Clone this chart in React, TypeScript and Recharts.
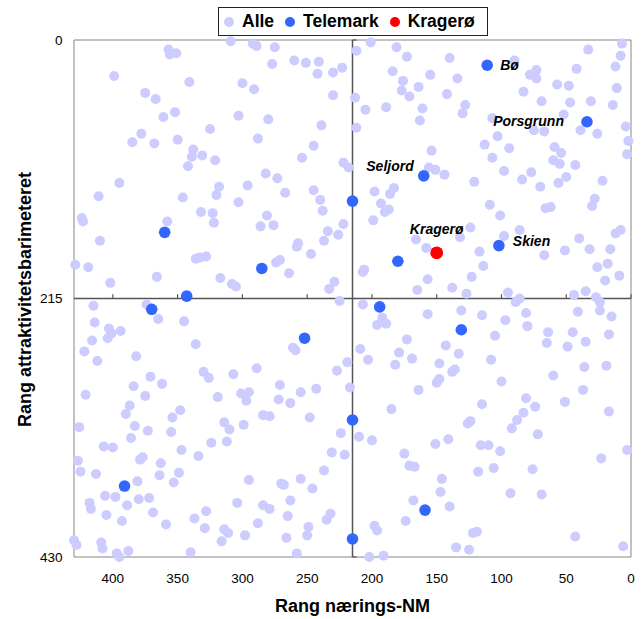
import React from 'react';
import { ScatterChart, Scatter, XAxis, YAxis, ReferenceLine, ReferenceArea, Legend } from 'recharts';

// ---- data ----
const xTicks = [0, 50, 100, 150, 200, 250, 300, 350, 400];
const yTicks = [0, 215, 430];
const midRank = 215;
const maxRank = 430;

const alleTopLeft: [number, number][] = [
  [357, 8], [356, 12], [351, 11], [309, 1], [292, 3], [289, 5], [275, 6], [399, 30], [341, 35], [277, 20],
  [260, 17], [251, 19], [241, 18], [242, 28], [230, 27], [223, 23], [375, 44], [367, 49], [300, 36], [291, 41],
  [230, 46], [352, 60], [361, 64], [303, 63], [280, 66], [239, 71], [325, 74], [378, 78], [385, 85], [368, 86],
  [350, 83], [288, 82], [245, 88], [338, 91], [339, 97], [331, 96], [321, 100], [342, 105], [254, 98], [222, 102],
  [218, 106], [282, 111], [273, 115], [395, 119], [318, 122], [296, 121], [267, 127], [245, 125], [240, 133], [238, 142],
  [411, 130], [346, 131], [320, 129], [303, 135], [424, 148], [423, 151], [332, 143], [323, 144], [322, 152], [358, 151],
  [281, 146], [286, 155], [276, 154], [222, 153], [234, 159], [226, 162], [410, 167], [257, 169], [258, 172], [237, 167],
  [247, 178], [336, 182], [333, 181], [328, 180], [429, 187], [419, 189], [274, 185], [271, 183], [264, 194], [366, 197],
  [317, 198], [308, 203], [305, 205], [402, 202], [229, 201], [233, 207],
];

const alleTopRight: [number, number][] = [
  [212, 9], [201, 2], [181, 6], [173, 14], [140, 15], [90, 17], [78, 29], [73, 25], [73, 32], [33, 8],
  [7, 3], [8, 13], [42, 24], [12, 22], [184, 26], [155, 29], [134, 32], [176, 34], [177, 42], [171, 47],
  [164, 39], [142, 45], [213, 48], [83, 43], [57, 37], [48, 38], [11, 40], [205, 58], [189, 56], [161, 57],
  [128, 54], [130, 61], [163, 67], [69, 51], [47, 52], [52, 62], [31, 51], [14, 54], [212, 73], [107, 65],
  [75, 75], [67, 76], [39, 75], [26, 78], [4, 72], [2, 84], [3, 95], [103, 80], [113, 87], [94, 90],
  [154, 92], [107, 98], [59, 89], [54, 94], [60, 100], [55, 103], [43, 104], [156, 106], [151, 108], [144, 112],
  [98, 109], [77, 110], [84, 116], [121, 118], [50, 114], [56, 119], [22, 117], [70, 122], [198, 126], [186, 128],
  [183, 123], [193, 136], [190, 143], [187, 141], [109, 137], [101, 146], [66, 140], [62, 139], [28, 132], [30, 138],
  [199, 150], [124, 156], [86, 158], [98, 163], [132, 164], [166, 166], [40, 165], [8, 158], [12, 161], [158, 173],
  [117, 176], [67, 179], [51, 175], [32, 174], [16, 174], [207, 193], [206, 191], [114, 188], [26, 189], [18, 186],
  [9, 196], [157, 199], [123, 197], [20, 200], [165, 208], [138, 206], [127, 211], [95, 210], [44, 212], [35, 209],
  [27, 214],
];

const alleBottomLeft: [number, number][] = [
  [415, 221], [374, 220], [365, 232], [345, 234], [225, 217], [414, 235], [403, 240], [401, 244], [404, 248], [394, 242],
  [416, 250], [422, 259], [412, 267], [382, 263], [336, 253], [261, 256], [259, 258], [219, 268], [227, 275], [217, 289],
  [330, 276], [326, 281], [307, 278], [289, 273], [371, 280], [362, 286], [384, 288], [375, 296], [421, 295], [319, 297],
  [301, 294], [295, 293], [297, 300], [271, 287], [243, 290], [255, 293], [272, 299], [263, 302], [387, 304], [390, 311],
  [348, 308], [354, 314], [284, 312], [279, 313], [248, 314], [426, 322], [383, 321], [373, 325], [355, 326], [386, 331],
  [314, 318], [310, 324], [299, 320], [324, 335], [312, 334], [224, 327], [407, 338], [400, 339], [347, 341], [334, 346],
  [231, 343], [221, 345], [379, 349], [377, 347], [363, 352], [427, 350], [425, 359], [413, 361], [364, 362], [349, 360],
  [381, 367], [353, 368], [295, 366], [270, 369], [268, 370], [255, 365], [246, 373], [237, 358], [406, 379], [398, 380],
  [380, 382], [372, 381], [418, 385], [417, 390], [389, 387], [369, 393], [304, 385], [284, 387], [279, 390], [263, 383],
  [405, 395], [393, 400], [359, 403], [337, 398], [328, 392], [329, 406], [314, 407], [311, 410], [288, 402], [265, 396],
  [249, 405], [250, 412], [235, 399], [232, 394], [430, 416], [428, 420], [409, 418], [408, 423], [397, 427], [395, 430],
  [388, 425], [340, 426], [316, 417], [298, 412], [266, 414], [258, 427],
];

const alleBottomRight: [number, number][] = [
  [207, 220], [192, 231], [196, 237], [189, 236], [157, 228], [131, 225], [115, 229], [97, 233], [89, 218], [86, 215],
  [81, 227], [80, 238], [41, 226], [24, 218], [24, 225], [15, 230], [64, 243], [45, 243], [65, 252], [49, 255],
  [35, 251], [17, 245], [105, 246], [173, 249], [209, 257], [179, 260], [203, 266], [169, 265], [143, 254], [133, 261],
  [182, 270], [148, 269], [108, 266], [136, 274], [138, 276], [150, 285], [148, 282], [100, 284], [60, 279], [36, 272],
  [19, 271], [164, 291], [37, 291], [81, 298], [74, 305], [83, 310], [88, 316], [92, 323], [51, 301], [17, 309],
  [115, 303], [185, 307], [210, 330], [200, 333], [126, 319], [124, 317], [72, 328], [151, 336], [141, 332], [116, 337],
  [110, 337], [101, 342], [175, 344], [171, 354], [167, 355], [118, 359], [106, 356], [76, 357], [23, 348], [3, 341],
  [146, 365], [147, 376], [93, 377], [69, 378], [168, 383], [140, 388], [174, 400], [198, 404], [196, 408], [122, 410],
  [119, 409], [43, 413], [6, 421], [135, 422], [125, 424], [202, 430], [191, 429],
];

const telemarkPoints: { x: number; y: number; name?: string }[] = [
  { x: 215, y: 134 }, { x: 360, y: 160 }, { x: 285, y: 190 }, { x: 343, y: 213 },
  { x: 111, y: 21, name: 'Bø' }, { x: 34, y: 68, name: 'Porsgrunn' }, { x: 160, y: 113, name: 'Seljord' },
  { x: 180, y: 184 }, { x: 102, y: 171, name: 'Skien' }, { x: 370, y: 224 }, { x: 252, y: 248 },
  { x: 215, y: 316 }, { x: 391, y: 371 }, { x: 215, y: 415 }, { x: 194, y: 222 }, { x: 131, y: 241 },
  { x: 159, y: 391 },
];

const krageroPoints: { x: number; y: number; name?: string }[] = [{ x: 150, y: 177, name: 'Kragerø' }];

const seriesNames = ['Alle', 'Telemark', 'Kragerø'];

// ---- styles ----
const FONT = '"Liberation Sans", Arial, Helvetica, sans-serif';
const ALLE_COLOR = '#CCCCFF';
const TELEMARK_COLOR = '#3366FF';
const KRAGERO_COLOR = '#FF0000';
const seriesColors = [ALLE_COLOR, TELEMARK_COLOR, KRAGERO_COLOR];
const AXIS_GRAY = '#858585';
const CROSS_GRAY = '#555555';
const X_TICK_LEN = 3.6;
const Y_TICK_LEN = 3.1;

const labelPlacement: Record<string, { dx: number; dy: number; anchor: 'start' | 'middle' | 'end' }> = {
  'Bø': { dx: 13, dy: 4.5, anchor: 'start' },
  Porsgrunn: { dx: -23, dy: 4.5, anchor: 'end' },
  Seljord: { dx: -10, dy: -4.5, anchor: 'end' },
  Skien: { dx: 14, dy: 0.5, anchor: 'start' },
  'Kragerø': { dx: 0, dy: -18.5, anchor: 'middle' },
};

const toPoints = (arr: [number, number][]) => arr.map(([x, y]) => ({ x, y }));
const allePoints = [
  ...toPoints(alleTopLeft),
  ...toPoints(alleTopRight),
  ...toPoints(alleBottomLeft),
  ...toPoints(alleBottomRight),
];

const makeDot = (r: number, fill: string) => (props: any) => {
  const { cx, cy, payload } = props;
  const name = payload && payload.name;
  const lp = name ? labelPlacement[name] : undefined;
  return (
    <g>
      <circle cx={cx} cy={cy} r={r} fill={fill} />
      {lp && (
        <text
          x={cx + lp.dx}
          y={cy + lp.dy}
          textAnchor={lp.anchor}
          fontFamily={FONT}
          fontSize={14}
          fontWeight="bold"
          fontStyle="italic"
          fill="#000"
        >
          {name}
        </text>
      )}
    </g>
  );
};

const YTitle = (props: any) => {
  const vb = props.viewBox || { x: 0, y: 40, width: 74, height: 517 };
  const cx = vb.x + 31;
  const cy = vb.y + vb.height / 2 + 1;
  return (
    <text
      x={cx}
      y={cy}
      transform={`rotate(-90 ${cx} ${cy})`}
      textAnchor="middle"
      fontFamily={FONT}
      fontSize={18}
      fontWeight="bold"
      fill="#000"
    >
      Rang attraktivitetsbarimeteret
    </text>
  );
};

const XTitle = (props: any) => {
  const vb = props.viewBox || { x: 74, y: 557, width: 557, height: 62 };
  return (
    <text
      x={vb.x + vb.width / 2}
      y={vb.y + 55}
      textAnchor="middle"
      fontFamily={FONT}
      fontSize={18}
      fontWeight="bold"
      fill="#000"
    >
      Rang nærings-NM
    </text>
  );
};

const LegendBox = () => (
  <div
    style={{
      boxSizing: 'border-box',
      width: 270,
      height: 29,
      border: '1px solid #222',
      background: '#fff',
      display: 'flex',
      alignItems: 'center',
      paddingLeft: 5,
      fontFamily: FONT,
      fontWeight: 'bold',
      fontSize: 17.5,
      color: '#000',
      whiteSpace: 'nowrap',
    }}
  >
    {seriesNames.map((n, i) => (
      <span key={n} style={{ display: 'flex', alignItems: 'center', marginRight: 11 }}>
        <span
          style={{
            display: 'inline-block',
            width: 10,
            height: 10,
            borderRadius: '50%',
            background: seriesColors[i],
            marginRight: 8,
          }}
        />
        <span>{n}</span>
      </span>
    ))}
  </div>
);

export default function App() {
  return (
    <div style={{ position: 'absolute', left: 0, top: 0 }}>
      <ScatterChart width={643} height={619} margin={{ top: 40, right: 12, bottom: 0, left: 0 }}>
        <XAxis
          type="number"
          dataKey="x"
          domain={[0, maxRank]}
          reversed
          ticks={xTicks}
          interval={0}
          axisLine={false}
          tickLine={false}
          tickSize={0}
          tickMargin={16.5}
          height={62}
          tick={{ fontSize: 13.5, fill: '#000', fontFamily: FONT }}
          label={<XTitle />}
        />
        <YAxis
          type="number"
          dataKey="y"
          domain={[0, maxRank]}
          reversed
          ticks={yTicks}
          interval={0}
          axisLine={false}
          tickLine={false}
          tickSize={0}
          tickMargin={11.5}
          width={74}
          tick={{ fontSize: 13.5, fill: '#000', fontFamily: FONT }}
          label={<YTitle />}
        />
        <ReferenceArea
          x1={0}
          x2={maxRank}
          y1={0}
          y2={maxRank}
          fill="none"
          fillOpacity={0}
          stroke={AXIS_GRAY}
          strokeWidth={1}
        />
        <ReferenceLine x={midRank} stroke={CROSS_GRAY} strokeWidth={1.5} />
        <ReferenceLine y={midRank} stroke={CROSS_GRAY} strokeWidth={1.5} />
        {xTicks.map((t) => (
          <ReferenceLine
            key={'xt' + t}
            segment={[{ x: t, y: midRank }, { x: t, y: midRank - X_TICK_LEN }]}
            stroke={CROSS_GRAY}
            strokeWidth={1.2}
          />
        ))}
        {yTicks.map((t) => (
          <ReferenceLine
            key={'yt' + t}
            segment={[{ x: midRank, y: t }, { x: midRank - Y_TICK_LEN, y: t }]}
            stroke={CROSS_GRAY}
            strokeWidth={1.2}
          />
        ))}
        <Scatter name="Alle" data={allePoints} fill={ALLE_COLOR} shape={makeDot(5, ALLE_COLOR)} isAnimationActive={false} />
        <Scatter name="Telemark" data={telemarkPoints} fill={TELEMARK_COLOR} shape={makeDot(5.8, TELEMARK_COLOR)} isAnimationActive={false} />
        <Scatter name="Kragerø" data={krageroPoints} fill={KRAGERO_COLOR} shape={makeDot(6.4, KRAGERO_COLOR)} isAnimationActive={false} />
        <Legend
          layout="horizontal"
          verticalAlign="middle"
          align="center"
          wrapperStyle={{ top: 7, left: 218, width: 270, height: 29 }}
          content={() => <LegendBox />}
        />
      </ScatterChart>
    </div>
  );
}
